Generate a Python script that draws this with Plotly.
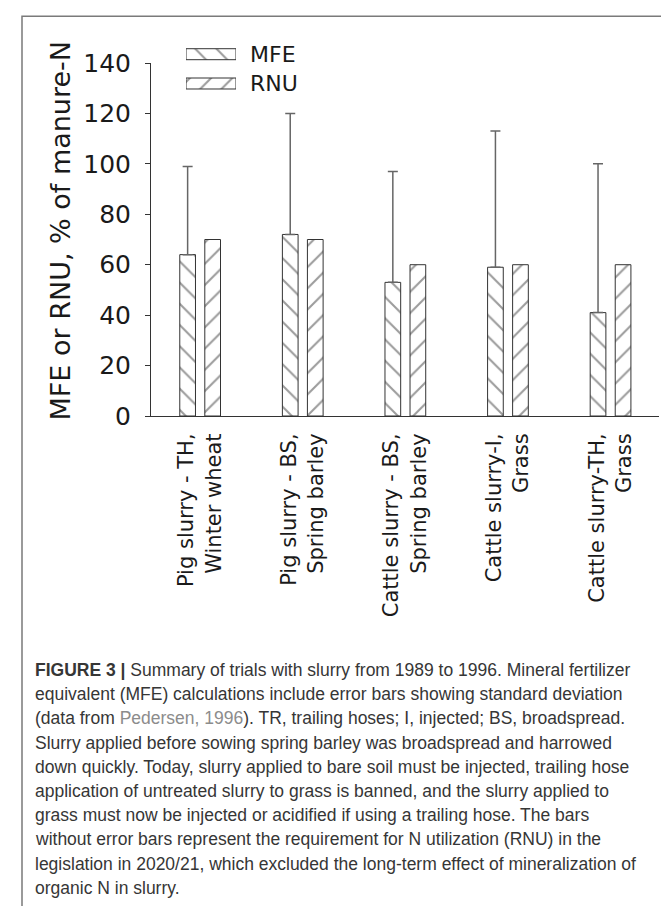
import plotly.graph_objects as go

# ---------------- data ----------------
categories = [
    "Pig slurry - TH,<br>Winter wheat",
    "Pig slurry - BS,<br>Spring barley",
    "Cattle slurry - BS,<br>Spring barley",
    "Cattle slurry-I,<br>Grass",
    "Cattle slurry-TH,<br>Grass",
]
series_names = ["MFE", "RNU"]
mfe_values = [64, 72, 53, 59, 41]
mfe_sd = [35, 48, 44, 54, 59]
rnu_values = [70, 70, 60, 60, 60]
y_ticks = [0, 20, 40, 60, 80, 100, 120, 140]
y_title = "MFE or RNU, % of manure-N"
caption_lines = [
    "<b>FIGURE 3 |</b> Summary of trials with slurry from 1989 to 1996. Mineral fertilizer",
    "equivalent (MFE) calculations include error bars showing standard deviation",
    "(data from <span style='color:#8c8c8c'>Pedersen, 1996</span>). TR, trailing hoses; I, injected; BS, broadspread.",
    "Slurry applied before sowing spring barley was broadspread and harrowed",
    "down quickly. Today, slurry applied to bare soil must be injected, trailing hose",
    "application of untreated slurry to grass is banned, and the slurry applied to",
    "grass must now be injected or acidified if using a trailing hose. The bars",
    "without error bars represent the requirement for N utilization (RNU) in the",
    "legislation in 2020/21, which excluded the long-term effect of mineralization of",
    "organic N in slurry.",
]

# ---------------- layout geometry ----------------
W, H = 669, 906
ML, MR, MT, MB = 143, 18, 20, 498
PW = W - ML - MR
PH = H - MT - MB


def px2x(px):
    return (px - ML) / PW


def py2y(py):
    return (H - MB - py) / PH


axis_font = "DejaVu Sans, Verdana, sans-serif"
cap_font = "Liberation Sans, Arial, sans-serif"
ink = "#1a1a1a"
hatch = "#3a3a3a"
pattern_kw = dict(fgcolor=hatch, bgcolor="white", size=15, solidity=0.14)

fig = go.Figure()

x_idx = list(range(len(categories)))

fig.add_trace(go.Bar(
    x=x_idx, y=mfe_values, name=series_names[0],
    width=0.153, offset=-0.198,
    marker=dict(color="white", line=dict(color="#333333", width=1),
                pattern=dict(shape="\\", **pattern_kw)),
    error_y=dict(type="data", symmetric=False, array=mfe_sd,
                 arrayminus=[0] * len(mfe_sd), color="#666666",
                 thickness=1.5, width=5),
    showlegend=False,
))
fig.add_trace(go.Bar(
    x=x_idx, y=rnu_values, name=series_names[1],
    width=0.153, offset=0.046,
    marker=dict(color="white", line=dict(color="#333333", width=1),
                pattern=dict(shape="/", **pattern_kw)),
    showlegend=False,
))

# legend swatches drawn as a small horizontal bar subplot
fig.add_trace(go.Bar(
    x=[1, 1], y=series_names, orientation="h", width=0.375,
    xaxis="x2", yaxis="y2", showlegend=False, hoverinfo="skip",
    marker=dict(color="white", line=dict(color="#333333", width=1),
                pattern=dict(shape=["\\", "/"], **pattern_kw)),
))

fig.update_layout(
    width=W, height=H,
    margin=dict(l=ML, r=MR, t=MT, b=MB, autoexpand=False),
    paper_bgcolor="white", plot_bgcolor="rgba(0,0,0,0)",
    barmode="overlay",
    xaxis=dict(
        domain=[0, 1], range=[-0.4785, 4.4727],
        tickmode="array", tickvals=x_idx, ticktext=categories,
        tickangle=-90, ticks="", showgrid=False, zeroline=False,
        showline=True, linecolor="#333333", linewidth=1,
        tickfont=dict(family=axis_font, size=21, color=ink),
        ticklabelstandoff=8,
    ),
    yaxis=dict(
        domain=[0, py2y(55)], range=[0, 140],
        tickmode="array", tickvals=y_ticks,
        ticks="outside", ticklen=5, tickcolor="#333333", tickwidth=1,
        showgrid=False, zeroline=False,
        showline=True, linecolor="#333333", linewidth=1,
        tickfont=dict(family=axis_font, size=25, color=ink),
        ticklabelstandoff=9,
    ),
    xaxis2=dict(domain=[px2x(178), px2x(228)], range=[0, 1], anchor="y2",
                visible=False, fixedrange=True),
    yaxis2=dict(domain=[py2y(90.15), py2y(31.55)], anchor="x2",
                type="category", categoryorder="array",
                categoryarray=series_names, range=[1.5, -0.5],
                side="right", showline=False, showgrid=False, zeroline=False,
                ticks="", ticklabelstandoff=13,
                tickfont=dict(family=axis_font, size=22, color=ink)),
    showlegend=False,
)

annotations = [dict(
    text=y_title, textangle=-90, xref="paper", yref="paper",
    x=px2x(52), y=py2y(222.5), xanchor="center", yanchor="middle",
    showarrow=False, font=dict(family=axis_font, size=27, color=ink),
)]
for i, line in enumerate(caption_lines):
    annotations.append(dict(
        text=line, xref="paper", yref="paper",
        x=px2x(26), y=py2y(662 + i * 24.2), xanchor="left", yanchor="middle",
        align="left", showarrow=False, borderpad=0,
        font=dict(family=cap_font, size=17.5, color="#363636"),
    ))
fig.update_layout(annotations=annotations)

fig.add_shape(type="rect", xref="paper", yref="paper",
              x0=px2x(14), x1=px2x(667.7), y0=py2y(912), y1=py2y(8.3),
              line=dict(color="#7a7a7a", width=1.5), fillcolor="rgba(0,0,0,0)",
              layer="below")

fig.write_html("out.html")
